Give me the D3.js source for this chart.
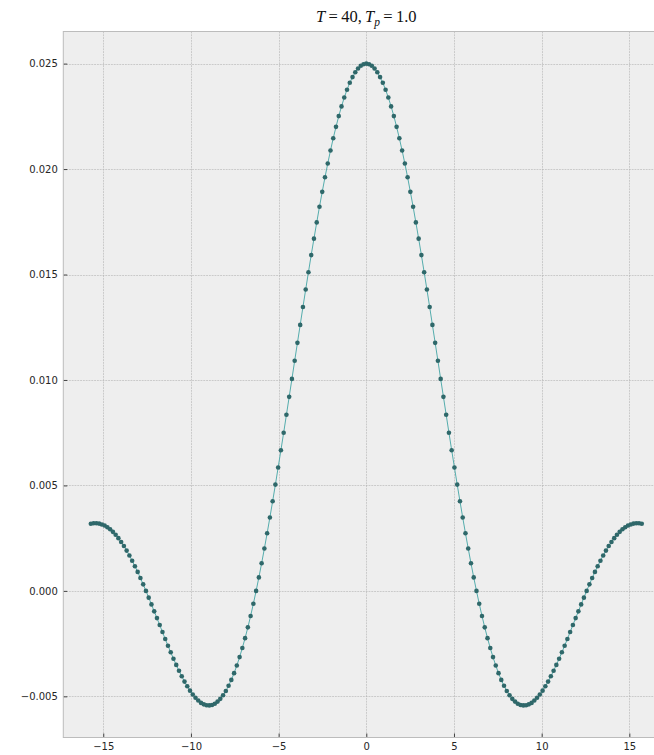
<!DOCTYPE html>
<html>
<head>
<meta charset="utf-8">
<script src="https://cdn.jsdelivr.net/npm/d3@7"></script>
<style>
  html, body { margin: 0; padding: 0; background: #ffffff; }
  svg { display: block; }
  .tick text { font-family: "DejaVu Sans", sans-serif; font-size: 10px; fill: #262626; }
</style>
</head>
<body>
<svg id="chart" width="654" height="755"></svg>
<script>
// sample positions t (rad), evenly spaced over [-5π, 5π]
const tValues = [
  -15.708, -15.551, -15.394, -15.237, -15.080, -14.923, -14.765, -14.608, -14.451, -14.294,
  -14.137, -13.980, -13.823, -13.666, -13.509, -13.352, -13.195, -13.038, -12.881, -12.723,
  -12.566, -12.409, -12.252, -12.095, -11.938, -11.781, -11.624, -11.467, -11.310, -11.153,
  -10.996, -10.838, -10.681, -10.524, -10.367, -10.210, -10.053, -9.896, -9.739, -9.582,
  -9.425, -9.268, -9.111, -8.954, -8.796, -8.639, -8.482, -8.325, -8.168, -8.011,
  -7.854, -7.697, -7.540, -7.383, -7.226, -7.069, -6.912, -6.754, -6.597, -6.440,
  -6.283, -6.126, -5.969, -5.812, -5.655, -5.498, -5.341, -5.184, -5.027, -4.869,
  -4.712, -4.555, -4.398, -4.241, -4.084, -3.927, -3.770, -3.613, -3.456, -3.299,
  -3.142, -2.985, -2.827, -2.670, -2.513, -2.356, -2.199, -2.042, -1.885, -1.728,
  -1.571, -1.414, -1.257, -1.100, -0.942, -0.785, -0.628, -0.471, -0.314, -0.157,
  0.000,
  0.157, 0.314, 0.471, 0.628, 0.785, 0.942, 1.100, 1.257, 1.414, 1.571,
  1.728, 1.885, 2.042, 2.199, 2.356, 2.513, 2.670, 2.827, 2.985, 3.142,
  3.299, 3.456, 3.613, 3.770, 3.927, 4.084, 4.241, 4.398, 4.555, 4.712,
  4.869, 5.027, 5.184, 5.341, 5.498, 5.655, 5.812, 5.969, 6.126, 6.283,
  6.440, 6.597, 6.754, 6.912, 7.069, 7.226, 7.383, 7.540, 7.697, 7.854,
  8.011, 8.168, 8.325, 8.482, 8.639, 8.796, 8.954, 9.111, 9.268, 9.425,
  9.582, 9.739, 9.896, 10.053, 10.210, 10.367, 10.524, 10.681, 10.838, 10.996,
  11.153, 11.310, 11.467, 11.624, 11.781, 11.938, 12.095, 12.252, 12.409, 12.566,
  12.723, 12.881, 13.038, 13.195, 13.352, 13.509, 13.666, 13.823, 13.980, 14.137,
  14.294, 14.451, 14.608, 14.765, 14.923, 15.080, 15.237, 15.394, 15.551, 15.708
];

// pulse amplitude at each sample
const pulseValues = [
  0.00318, 0.00321, 0.00321, 0.00319, 0.00315, 0.00310, 0.00302, 0.00292, 0.00280, 0.00266,
  0.00250, 0.00232, 0.00213, 0.00191, 0.00168, 0.00143, 0.00117, 0.00090, 0.00061, 0.00031,
  0.00000, -0.00032, -0.00064, -0.00097, -0.00129, -0.00162, -0.00195, -0.00228, -0.00260, -0.00291,
  -0.00322, -0.00351, -0.00379, -0.00405, -0.00430, -0.00452, -0.00473, -0.00491, -0.00507, -0.00520,
  -0.00531, -0.00538, -0.00542, -0.00543, -0.00541, -0.00535, -0.00525, -0.00512, -0.00495, -0.00475,
  -0.00450, -0.00422, -0.00390, -0.00354, -0.00314, -0.00271, -0.00224, -0.00173, -0.00119, -0.00061,
  0.00000, 0.00064, 0.00131, 0.00201, 0.00273, 0.00348, 0.00425, 0.00504, 0.00585, 0.00667,
  0.00750, 0.00835, 0.00920, 0.01005, 0.01091, 0.01176, 0.01261, 0.01346, 0.01429, 0.01511,
  0.01592, 0.01670, 0.01747, 0.01821, 0.01892, 0.01961, 0.02026, 0.02088, 0.02146, 0.02200,
  0.02251, 0.02297, 0.02339, 0.02376, 0.02409, 0.02436, 0.02459, 0.02477, 0.02490, 0.02497,
  0.02500,
  0.02497, 0.02490, 0.02477, 0.02459, 0.02436, 0.02409, 0.02376, 0.02339, 0.02297, 0.02251,
  0.02200, 0.02146, 0.02088, 0.02026, 0.01961, 0.01892, 0.01821, 0.01747, 0.01670, 0.01592,
  0.01511, 0.01429, 0.01346, 0.01261, 0.01176, 0.01091, 0.01005, 0.00920, 0.00835, 0.00750,
  0.00667, 0.00585, 0.00504, 0.00425, 0.00348, 0.00273, 0.00201, 0.00131, 0.00064, 0.00000,
  -0.00061, -0.00119, -0.00173, -0.00224, -0.00271, -0.00314, -0.00354, -0.00390, -0.00422, -0.00450,
  -0.00475, -0.00495, -0.00512, -0.00525, -0.00535, -0.00541, -0.00543, -0.00542, -0.00538, -0.00531,
  -0.00520, -0.00507, -0.00491, -0.00473, -0.00452, -0.00430, -0.00405, -0.00379, -0.00351, -0.00322,
  -0.00291, -0.00260, -0.00228, -0.00195, -0.00162, -0.00129, -0.00097, -0.00064, -0.00032, 0.00000,
  0.00031, 0.00061, 0.00090, 0.00117, 0.00143, 0.00168, 0.00191, 0.00213, 0.00232, 0.00250,
  0.00266, 0.00280, 0.00292, 0.00302, 0.00310, 0.00315, 0.00319, 0.00321, 0.00321, 0.00318
];

const xTicks = [-15, -10, -5, 0, 5, 10, 15];
const yTicks = [-0.005, 0.000, 0.005, 0.010, 0.015, 0.020, 0.025];
const xTickLabels = ["\u221215", "\u221210", "\u22125", "0", "5", "10", "15"];
const yTickLabels = ["\u22120.005", "0.000", "0.005", "0.010", "0.015", "0.020", "0.025"];

const T = 40, Tp = "1.0";

// plot frame (the right part runs past the visible canvas)
const frame = { left: 63.3, right: 669.3, top: 31.5, bottom: 737.5 };

// 5% padding around the data extent on both axes
const xExt = d3.extent(tValues), yExt = d3.extent(pulseValues);
const xPad = (xExt[1] - xExt[0]) * 0.05, yPad = (yExt[1] - yExt[0]) * 0.05;

const x = d3.scaleLinear().domain([xExt[0] - xPad, xExt[1] + xPad]).range([frame.left, frame.right]);
const y = d3.scaleLinear().domain([yExt[0] - yPad, yExt[1] + yPad]).range([frame.bottom, frame.top]);

const svg = d3.select("#chart");
svg.append("rect").attr("width", 654).attr("height", 755).attr("fill", "#ffffff");

svg.append("rect")
  .attr("x", frame.left).attr("y", frame.top)
  .attr("width", frame.right - frame.left).attr("height", frame.bottom - frame.top)
  .attr("fill", "#eeeeee");

// dashed grid
const grid = svg.append("g").attr("stroke", "#b2b2b2").attr("stroke-width", 0.6)
  .attr("stroke-dasharray", "1.9,0.9");
grid.selectAll("line.gx").data(xTicks).join("line")
  .attr("x1", d => Math.round(x(d)) + 0.5).attr("x2", d => Math.round(x(d)) + 0.5)
  .attr("y1", frame.top).attr("y2", frame.bottom);
grid.selectAll("line.gy").data(yTicks).join("line")
  .attr("y1", d => Math.round(y(d)) + 0.5).attr("y2", d => Math.round(y(d)) + 0.5)
  .attr("x1", frame.left).attr("x2", frame.right);

// axes with inward ticks
const xAxis = d3.axisBottom(x).tickValues(xTicks)
  .tickFormat((d, i) => xTickLabels[i]).tickSizeInner(-4).tickSizeOuter(0).tickPadding(5);
const yAxis = d3.axisLeft(y).tickValues(yTicks)
  .tickFormat((d, i) => yTickLabels[i]).tickSizeInner(-4).tickSizeOuter(0).tickPadding(5.5);

const gx = svg.append("g").attr("transform", `translate(0,${frame.bottom})`).call(xAxis);
const gy = svg.append("g").attr("transform", `translate(${frame.left},0)`).call(yAxis);
[gx, gy].forEach(g => {
  g.select(".domain").remove();
  g.selectAll(".tick line").attr("stroke", "#333333").attr("stroke-width", 0.9);
  g.attr("font-family", null).attr("font-size", null);
});

// frame border
svg.append("rect")
  .attr("x", frame.left).attr("y", frame.top)
  .attr("width", frame.right - frame.left).attr("height", frame.bottom - frame.top)
  .attr("fill", "none").attr("stroke", "#bcbcbc").attr("stroke-width", 1);

// pulse curve and samples
const pts = tValues.map((t, i) => [t, pulseValues[i]]);
svg.append("path")
  .datum(pts)
  .attr("fill", "none")
  .attr("stroke", "#55adad")
  .attr("stroke-width", 1)
  .attr("d", d3.line().x(d => x(d[0])).y(d => y(d[1])));

svg.append("g").selectAll("circle").data(pts).join("circle")
  .attr("cx", d => x(d[0])).attr("cy", d => y(d[1]))
  .attr("r", 2.3)
  .attr("fill", "#2f686a");

// title in math style
const title = svg.append("text")
  .attr("x", (frame.left + frame.right) / 2).attr("y", 22)
  .attr("text-anchor", "middle")
  .attr("font-family", "'Liberation Serif', 'Times New Roman', serif")
  .attr("font-size", 16.5)
  .attr("fill", "#111111");
title.append("tspan").attr("font-style", "italic").text("T");
title.append("tspan").text(`\u2009=\u2009${T},\u2009`);
title.append("tspan").attr("font-style", "italic").text("T");
title.append("tspan").attr("font-style", "italic").attr("font-size", 11.5).attr("dy", 3.5).text("p");
title.append("tspan").attr("dy", -3.5).text(`\u2009=\u2009${Tp}`);
</script>
</body>
</html>
